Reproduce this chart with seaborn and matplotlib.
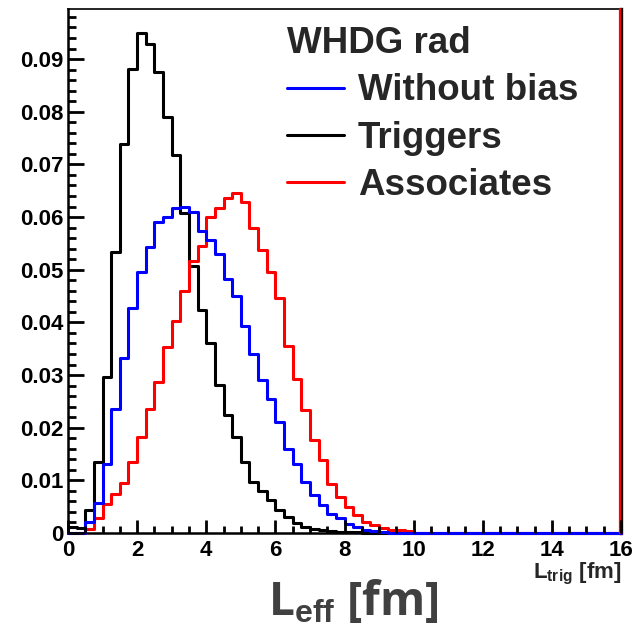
import numpy as np
import pandas as pd
import matplotlib
matplotlib.use("Agg")
import matplotlib.pyplot as plt
from matplotlib.lines import Line2D
from matplotlib.ticker import MultipleLocator
from matplotlib.font_manager import FontProperties
from matplotlib.transforms import ScaledTranslation
import seaborn as sns

# ---------------- data ----------------
bin_start = 0.0
bin_width = 0.25
x_max = 16.0
y_max = 0.0995

series_labels = ["Without bias", "Triggers", "Associates"]
series_colors = ["#0000ff", "#000000", "#ff0000"]

# per-bin heights, bins of 0.25 fm starting at 0 (bins above 10 fm are empty)
without_bias = [0.0, 0.0, 0.0021, 0.0057, 0.0132, 0.0235, 0.0333, 0.0428,
                0.0495, 0.0543, 0.0590, 0.0600, 0.0617, 0.0619, 0.0609, 0.0574,
                0.0557, 0.0530, 0.0483, 0.0451, 0.0394, 0.0340, 0.0290, 0.0255,
                0.0211, 0.0160, 0.0132, 0.0097, 0.0072, 0.0053, 0.0037, 0.0028,
                0.0018, 0.0012, 0.0006, 0.0003, 0.0002, 0.0, 0.0, 0.0]
triggers = [0.0012, 0.0009, 0.0044, 0.0135, 0.0296, 0.0533, 0.0739, 0.0881,
            0.0950, 0.0928, 0.0876, 0.0790, 0.0718, 0.0607, 0.0508, 0.0423,
            0.0360, 0.0282, 0.0225, 0.0182, 0.0134, 0.0097, 0.0080, 0.0062,
            0.0044, 0.0031, 0.0019, 0.0012, 0.0008, 0.0005, 0.0003, 0.0002,
            0.0001, 0.0001, 0.0, 0.0, 0.0, 0.0, 0.0, 0.0]
associates = [0.0, 0.0, 0.0007, 0.0028, 0.0055, 0.0075, 0.0095, 0.0135,
              0.0183, 0.0235, 0.0287, 0.0353, 0.0402, 0.0460, 0.0516, 0.0545,
              0.0601, 0.0618, 0.0637, 0.0646, 0.0628, 0.0580, 0.0538, 0.0496,
              0.0446, 0.0356, 0.0292, 0.0233, 0.0176, 0.0138, 0.0094, 0.0069,
              0.0050, 0.0034, 0.0021, 0.0015, 0.0009, 0.0006, 0.0005, 0.0004]

x_ticks = [0, 2, 4, 6, 8, 10, 12, 14, 16]
x_tick_labels = ["0", "2", "4", "6", "8", "10", "12", "14", "16"]
y_ticks = [0, 0.01, 0.02, 0.03, 0.04, 0.05, 0.06, 0.07, 0.08, 0.09]
y_tick_labels = ["0", "0.01", "0.02", "0.03", "0.04", "0.05", "0.06",
                 "0.07", "0.08", "0.09"]

legend_title = "WHDG rad"
axis_title = r"L$_{\mathrm{trig}}$ [fm]"
big_title = r"L$_{\mathrm{eff}}$ [fm]"

# ---------------- style ----------------
sns.set_style("ticks")
plt.rcParams.update({
    "font.family": ["Liberation Sans", "DejaVu Sans"],
    "mathtext.fontset": "custom",
    "mathtext.rm": "Liberation Sans:bold",
    "mathtext.it": "Liberation Sans:bold",
    "mathtext.bf": "Liberation Sans:bold",
    "xtick.bottom": True, "xtick.top": False,
    "ytick.left": True, "ytick.right": False,
    "xtick.direction": "in", "ytick.direction": "in",
    "xtick.color": "black", "ytick.color": "black",
    "axes.axisbelow": False,
})

fig = plt.figure(figsize=(6.32, 6.29), dpi=100)
ax = fig.add_axes([0.1076, 0.1526, 0.875, 0.833])

centers = bin_start + bin_width * (np.arange(len(triggers)) + 0.5)

series = {"Without bias": without_bias, "Triggers": triggers, "Associates": associates}
color_of = dict(zip(series_labels, series_colors))

# draw order: black, red, blue (blue on top)
for name in ["Triggers", "Associates", "Without bias"]:
    df = pd.DataFrame({"L": centers, "w": series[name]})
    sns.histplot(data=df, x="L", weights="w", binwidth=bin_width,
                 binrange=(bin_start, x_max), element="step",
                 fill=False, color=color_of[name], linewidth=2.2, ax=ax,
                 clip_on=False, zorder=3)

ax.set_xlim(bin_start, x_max)
ax.set_ylim(0, y_max)
ax.set_ylabel("")

tick_font = FontProperties(family="Liberation Sans", weight="bold", size=16)
ax.set_xticks(x_ticks)
ax.set_xticklabels(x_tick_labels, fontproperties=tick_font)
ax.set_yticks(y_ticks)
ax.set_yticklabels(y_tick_labels, fontproperties=tick_font)
ax.xaxis.set_minor_locator(MultipleLocator(0.5))
ax.yaxis.set_minor_locator(MultipleLocator(0.002))
# tick marks are drawn below as short lines on the axes' own transforms
ax.tick_params(axis="y", which="both", direction="in", left=True, right=False,
               length=0, colors="black")
ax.tick_params(axis="y", which="major", pad=3.5)
ax.tick_params(axis="x", which="both", direction="in", bottom=True, top=False,
               length=0, colors="black")
ax.tick_params(axis="x", which="major", pad=5)

x_major_locs = [v for v in ax.xaxis.get_majorticklocs() if bin_start <= v <= x_max]
x_minor_locs = [v for v in ax.xaxis.get_minorticklocs() if bin_start <= v <= x_max]
y_major_locs = [v for v in ax.yaxis.get_majorticklocs() if 0 <= v <= y_max]
y_minor_locs = [v for v in ax.yaxis.get_minorticklocs() if 0 <= v <= y_max]
xt = ax.get_xaxis_transform()
yt = ax.get_yaxis_transform()
ax.vlines(x_major_locs, 0, 0.025, transform=xt, colors="black", lw=2.0,
          clip_on=False, zorder=5)
ax.vlines(x_minor_locs, 0, 0.0135, transform=xt, colors="black", lw=2.0,
          clip_on=False, zorder=5)
ax.hlines(y_major_locs, 0, 0.029, transform=yt, colors="black", lw=2.0,
          clip_on=False, zorder=5)
ax.hlines(y_minor_locs, 0, 0.0145, transform=yt, colors="black", lw=2.0,
          clip_on=False, zorder=5)

for side in ["left", "bottom"]:
    ax.spines[side].set_color("black")
    ax.spines[side].set_linewidth(1.8)
ax.spines["top"].set_color("black")
ax.spines["top"].set_linewidth(1.2)
ax.spines["right"].set_color("black")
ax.spines["right"].set_linewidth(2.4)
red_edge = ax.transAxes + ScaledTranslation(-1.0 / 72, 0, fig.dpi_scale_trans)
ax.plot([1, 1], [0, 1], transform=red_edge, color="#ff0000", lw=1.6,
        clip_on=False, zorder=4)

ax.set_xlabel(axis_title, loc="right", fontsize=16, fontweight="bold",
              labelpad=0)

fig.text(0.5585, 0.004, big_title, ha="center", va="bottom", fontsize=33,
         family="Open Sans", weight="bold", color="#404040")

handles = [Line2D([], [], color=color_of[n], lw=2.2) for n in series_labels]
leg_font = FontProperties(family="Liberation Sans", weight="bold", size=26.5)
ax.legend(handles, series_labels, title=legend_title, loc="upper left",
          bbox_to_anchor=(0.396, 0.967), frameon=False, prop=leg_font,
          title_fontproperties=leg_font, alignment="left", handlelength=1.55,
          handletextpad=0.37, labelspacing=0.33, borderpad=0, borderaxespad=0)

fig.savefig("out.png", dpi=100)
